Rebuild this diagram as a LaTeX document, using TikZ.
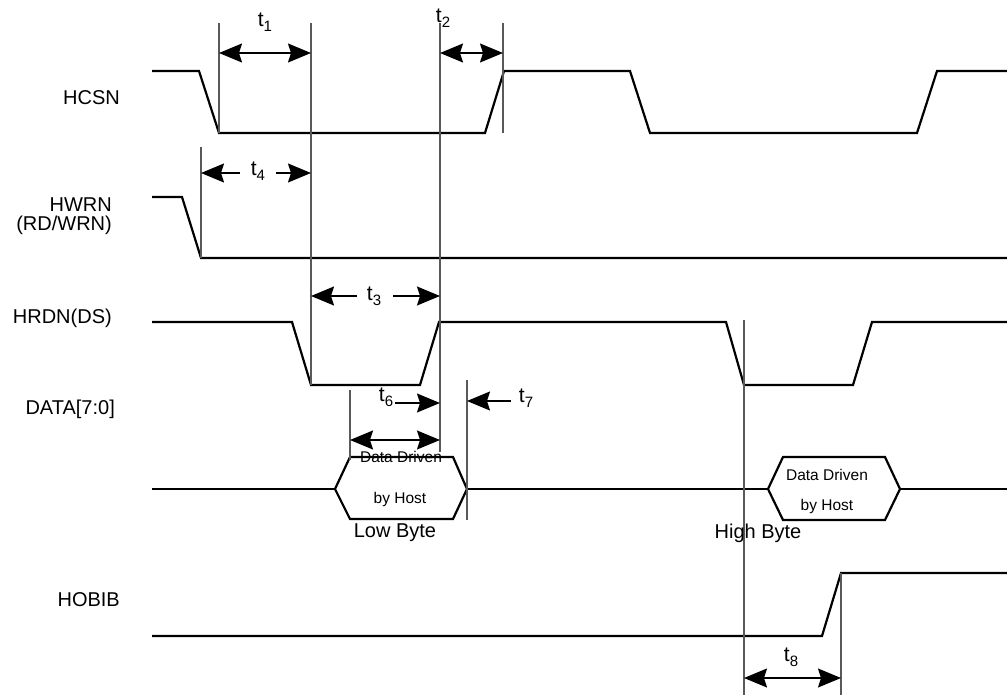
\documentclass[tikz,border=0pt]{standalone}
\usepackage{fontspec}
\setmainfont{Liberation Sans}
\usetikzlibrary{arrows.meta}
\newcommand{\tsub}[1]{t\raisebox{-5pt}{\fontsize{15}{15}\selectfont #1}}
\begin{document}
\begin{tikzpicture}[x=1pt,y=-1pt,
  sig/.style={line width=2.2pt,line join=miter},
  guide/.style={line width=1.1pt,draw=black!65},
  ahead/.tip={Stealth[length=23pt,width=19pt,inset=3pt]},
  dim/.style={line width=1.3pt,ahead-ahead},
  rdim/.style={line width=1.3pt,-ahead},
  lbl/.style={font=\fontsize{20}{18.5}\selectfont,inner sep=0pt,align=right},
  tl/.style={font=\fontsize{21}{21}\selectfont,inner sep=0pt},
  lb/.style={font=\fontsize{20}{20}\selectfont,inner sep=0pt},
  small/.style={font=\fontsize{15.5}{16}\selectfont,inner sep=0pt}]
\useasboundingbox[fill=white] (0,0) rectangle (1007,695);

% signal labels
\node[lbl,anchor=east] (hcsn) at (120,97.5) {HCSN};
\node[lbl,anchor=east] (hwrn) at (112,216) {HWRN\\(RD/WRN)};
\node[lbl,anchor=east] (hrdn) at (112,318) {HRDN(DS)};
\node[lbl,anchor=east] (data) at (115,409) {DATA[7:0]};
\node[lbl,anchor=east] (hobib) at (120,600) {HOBIB};

% waveforms
\draw[sig] (152,71)--(199,71)--(219,133)--(485,133)--(504,71)--(630,71)--(650,133)--(917,133)--(937,71)--(1007,71);
\draw[sig] (152,197)--(182,197)--(201,258)--(1007,258);
\draw[sig] (152,322)--(292,322)--(311,385)--(420,385)--(439,322)--(726,322)--(744,385)--(853,385)--(872,322)--(1007,322);
\draw[sig] (152,489)--(335,489);
\draw[sig] (335,489)--(350,457)--(453,457)--(467,489)--(453,519)--(350,519)--cycle;
\draw[sig] (467,489)--(768,489);
\draw[sig] (768,489)--(783,457)--(885,457)--(900,489)--(885,520)--(783,520)--cycle;
\draw[sig] (900,489)--(1007,489);
\draw[sig] (152,636)--(822,636)--(841,573)--(1007,573);

% guide lines
\coordinate (g1a) at (219,23); \coordinate (g1b) at (219,133);
\coordinate (g2a) at (311,23); \coordinate (g2b) at (311,385);
\coordinate (g3a) at (440,23); \coordinate (g3b) at (440,452);
\coordinate (g4a) at (503,23); \coordinate (g4b) at (503,133);
\coordinate (g5a) at (201,147); \coordinate (g5b) at (201,258);
\coordinate (g6a) at (350,390); \coordinate (g6b) at (350,460);
\coordinate (g7a) at (467,380); \coordinate (g7b) at (467,520);
\coordinate (g8a) at (744,320); \coordinate (g8b) at (744,695);
\coordinate (g9a) at (841,573); \coordinate (g9b) at (841,695);
\foreach \g in {1,...,9} {\draw[guide] (g\g a)--(g\g b);}

% data text
\node[small] (d1a) at (401,457) {Data Driven};
\node[small] (d1b) at (400,499) {by Host};
\node[small] (d2a) at (827,475) {Data Driven};
\node[small] (d2b) at (827,506) {by Host};
\node[lb] (lowb) at (395,533) {Low Byte};
\node[lb] (highb) at (758,533) {High Byte};

% timing annotations
\node[tl] (t1) at (265,22) {\tsub{1}};
\draw[dim] (219,53)--(311,53);
\node[tl] (t2) at (443,18) {\tsub{2}};
\draw[dim] (440,53)--(503,53);

\node[tl] (t4) at (258,171) {\tsub{4}};
\draw[rdim] (240,173)--(201,173);
\draw[rdim] (276,173)--(311,173);

\node[tl] (t3) at (374,296) {\tsub{3}};
\draw[rdim] (357,296)--(311,296);
\draw[rdim] (393,296)--(440,296);

\node[tl] (t6) at (386,397) {\tsub{6}};
\draw[rdim] (395,403)--(440,403);
\draw[dim] (350,440)--(440,440);

\node[tl] (t7) at (526,398) {\tsub{7}};
\draw[rdim] (511,401)--(467,401);

\node[tl] (t8) at (791,657) {\tsub{8}};
\draw[dim] (744,678)--(841,678);
\end{tikzpicture}
\end{document}
